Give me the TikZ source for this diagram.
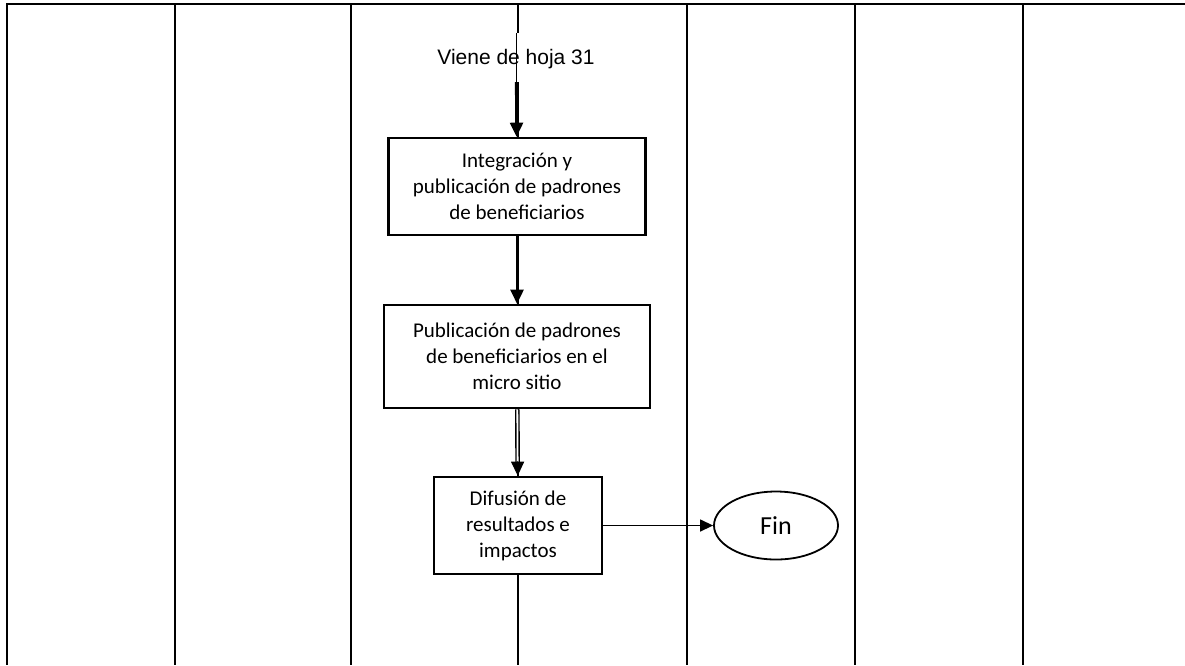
\documentclass[tikz,border=0pt]{standalone}
\usepackage{fontspec}
\setmainfont{Carlito}
\newfontfamily\arialfont{Liberation Sans}
\usetikzlibrary{arrows.meta,shapes.geometric}
\tikzset{
  >={Triangle[length=14pt,width=13pt]},
  lane/.style={line width=2pt},
  box/.style={draw,fill=white,line width=2.6pt,align=center,inner sep=0pt,
    font=\fontsize{21}{26}\selectfont},
  fin/.style={ellipse,draw,fill=white,line width=1.8pt,minimum width=124pt,minimum height=68pt,
    font=\fontsize{26}{30}\selectfont},
  flow/.style={->,line width=#1},
  flow/.default=2.6pt,
  tag/.style={fill=white,font=\arialfont\fontsize{21}{25}\selectfont,inner xsep=0pt,
    text height=31pt,text depth=18pt,inner ysep=0pt},
}

\begin{document}
\begin{tikzpicture}[x=1pt,y=-1pt]
  \useasboundingbox (0,0) rectangle (1185,665);
  % swimlanes
  \draw[line width=2.6pt] (6,4) -- (1185,4);
  \foreach \x in {7,175,351,518,687,855,1023} \draw[lane] (\x,4) -- (\x,665);

  \node[tag,anchor=base] (from) at (516,64) {Viene de hoja 31};
  \node[box,minimum width=257pt,minimum height=97pt] (integra) at (517,186.5)
    {Integración y\\publicación de padrones\\de beneficiarios};
  \node[box,minimum width=266pt,minimum height=103pt] (publica) at (517,356.5)
    {Publicación de padrones\\de beneficiarios en el\\micro sitio};
  \node[box,minimum width=168pt,minimum height=97pt] (difusion) at (518,525.5)
    {Difusión de\\resultados e\\impactos};
  \node[fin] (fin) at (776,525.5) {Fin};

  \draw[line width=0.8pt,xshift=3pt] (from.north) -- (from.south);
  \draw[flow] (from) -- (integra);
  \draw[flow] (integra) -- (publica);
  \draw[line width=1.4pt,double,double distance=1.8pt,shorten >=12pt] (publica) -- (difusion);
  \draw[flow=1pt,shorten <=52pt] (publica) -- (difusion);
  \draw[flow=1.3pt,>={Triangle[length=13pt,width=12pt]}] (difusion) -- (fin);
\end{tikzpicture}
\end{document}
